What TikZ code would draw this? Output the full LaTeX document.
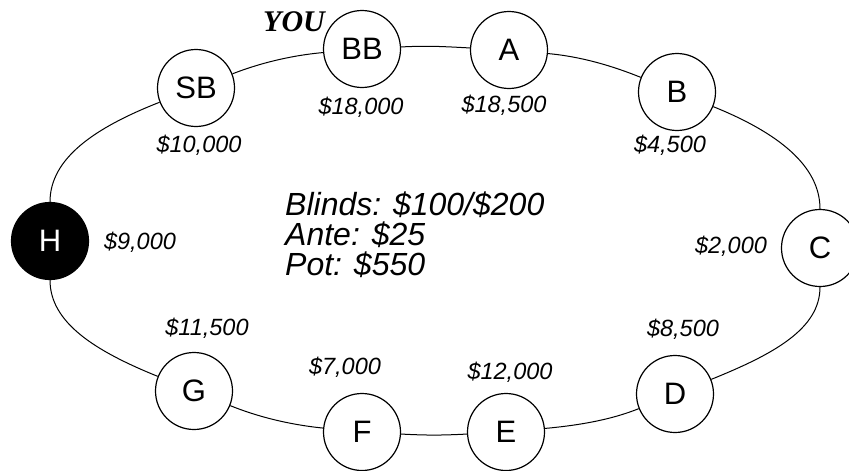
\documentclass[tikz,border=0pt]{standalone}
\usepackage{fontspec}
\setmainfont{Liberation Sans}
\newfontfamily\youfont{Liberation Serif}
\begin{document}
\begin{tikzpicture}[x=1pt,y=1pt,
  seat/.style={circle,draw,line width=1.2pt,minimum size=77pt,inner sep=0pt,fill=white,
    font=\fontsize{31}{31}\selectfont},
  hero/.style={seat,fill=black,text=white},
  stack/.style={inner sep=0pt,font=\fontsize{23.5}{23.5}\selectfont\itshape},
  info/.style={inner sep=0pt,anchor=north west,align=left,
    font=\fontsize{32}{30}\selectfont\itshape},
  youlabel/.style={inner sep=0pt,font=\fontsize{30}{30}\selectfont\youfont\bfseries\itshape},
  rail/.style={line width=1pt}]
\useasboundingbox (0,0) rectangle (849,-471);
% seats
\node[hero] (H)  at (50,-241) {H};
\node[seat] (SB) at (196,-88) {SB};
\node[seat] (BB) at (362,-49) {BB};
\node[seat] (A)  at (509,-50) {A};
\node[seat] (B)  at (677,-92) {B};
\node[seat] (C)  at (820,-248) {C};
\node[seat] (D)  at (675,-394) {D};
\node[seat] (E)  at (506,-432) {E};
\node[seat] (F)  at (362,-432) {F};
\node[seat] (G)  at (194,-391) {G};
% table rail
\draw[rail] (H)  to[out=90,in=201.6,out looseness=0.75,in looseness=1.2] (SB);
\draw[rail] (SB) to[out=21.6,in=185.5,out looseness=0.8,in looseness=0.9] (BB);
\draw[rail] (BB) to[out=3,in=177]      (A);
\draw[rail] (A)  to[out=-5.5,in=158,out looseness=0.9,in looseness=0.8] (B);
\draw[rail] (B)  to[out=-22,in=90,out looseness=1.2,in looseness=0.75] (C);
\draw[rail] (C)  to[out=-90,in=22,out looseness=0.75,in looseness=1.2] (D);
\draw[rail] (D)  to[out=202,in=5.5,out looseness=0.8,in looseness=0.9] (E);
\draw[rail] (E)  to[out=183,in=-3]     (F);
\draw[rail] (F)  to[out=174.5,in=-22,out looseness=0.9,in looseness=0.8] (G);
\draw[rail] (G)  to[out=158,in=-90,out looseness=1.2,in looseness=0.75] (H);
% stacks
\node[stack] (sSB) at (199,-145) {\$10,000};
\node[stack] (sBB) at (361,-107) {\$18,000};
\node[stack] (sA)  at (504,-105) {\$18,500};
\node[stack] (sB)  at (670,-145) {\$4,500};
\node[stack] (sH)  at (140,-242) {\$9,000};
\node[stack] (sC)  at (731,-246) {\$2,000};
\node[stack] (sG)  at (207,-328) {\$11,500};
\node[stack] (sF)  at (345,-367) {\$7,000};
\node[stack] (sE)  at (510,-372) {\$12,000};
\node[stack] (sD)  at (683,-329) {\$8,500};
% labels
\node[youlabel] (you) at (294,-22) {YOU};
\node[info] (pot) at (285,-192) {Blinds: \$100/\$200\\Ante: \$25\\Pot: \$550};
\end{tikzpicture}
\end{document}
